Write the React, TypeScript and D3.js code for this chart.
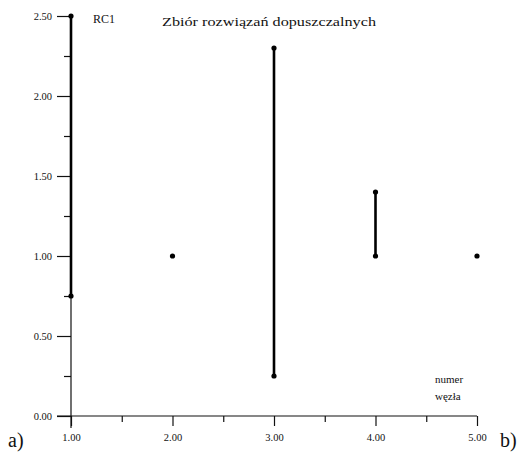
import React, { useEffect, useRef } from "react";
import * as d3 from "d3";

// node numbers and admissible intervals (low, high) for each node
const nodes = [1, 2, 3, 4, 5];
const lows = [0.75, 1.0, 0.25, 1.0, 1.0];
const highs = [2.5, 1.0, 2.3, 1.4, 1.0];

const xMajor = [1, 2, 3, 4, 5];
const xMinor = [1.5, 2.5, 3.5, 4.5];
const yMajor = [0, 0.5, 1, 1.5, 2, 2.5];
const yMinor = [0.25, 0.75, 1.25, 1.75, 2.25];

const W = 532;
const H = 454;

const App = () => {
  const ref = useRef<SVGSVGElement>(null);

  useEffect(() => {
    const svg = d3.select(ref.current);
    svg.selectAll("*").remove();

    const x = d3.scaleLinear().domain([1, 5]).range([71, 477]);
    const y = d3.scaleLinear().domain([0, 2.5]).range([416, 16]);
    const fmt = d3.format(".2f");
    const font = "'Liberation Serif', 'Times New Roman', serif";

    // x axis line
    svg.append("line")
      .attr("x1", 57).attr("x2", x(5))
      .attr("y1", y(0)).attr("y2", y(0))
      .attr("stroke", "#111").attr("stroke-width", 1.2);

    // y axis line
    svg.append("line")
      .attr("x1", x(1)).attr("x2", x(1))
      .attr("y1", y(2.5)).attr("y2", y(0) + 12)
      .attr("stroke", "#111").attr("stroke-width", 1.2);

    // x ticks
    const xAxis = svg.append("g").attr("transform", `translate(0,${y(0)})`)
      .call(d3.axisBottom(x).tickValues(xMajor).tickSize(10).tickSizeOuter(0).tickPadding(8).tickFormat((d) => fmt(d as number)));
    xAxis.select(".domain").remove();
    xAxis.selectAll("text").attr("font-family", font).attr("font-size", 10.5).attr("fill", "#111");
    xAxis.selectAll("line").attr("stroke", "#111").attr("stroke-width", 1.2);

    svg.append("g").attr("transform", `translate(0,${y(0)})`)
      .call(d3.axisBottom(x).tickValues(xMinor).tickSize(6).tickFormat(() => ""))
      .call((g) => g.select(".domain").remove())
      .selectAll("line").attr("stroke", "#111").attr("stroke-width", 1.2);

    // y ticks
    const yAxis = svg.append("g").attr("transform", `translate(${x(1)},0)`)
      .call(d3.axisLeft(y).tickValues(yMajor).tickSize(14).tickSizeOuter(0).tickPadding(5).tickFormat((d) => fmt(d as number)));
    yAxis.select(".domain").remove();
    yAxis.selectAll("text").attr("font-family", font).attr("font-size", 10.5).attr("fill", "#111");
    yAxis.selectAll("line").attr("stroke", "#111").attr("stroke-width", 1.2);

    svg.append("g").attr("transform", `translate(${x(1)},0)`)
      .call(d3.axisLeft(y).tickValues(yMinor).tickSize(7).tickFormat(() => ""))
      .call((g) => g.select(".domain").remove())
      .selectAll("line").attr("stroke", "#111").attr("stroke-width", 1.2);

    // intervals
    const data = nodes.map((n, i) => ({ n, lo: lows[i], hi: highs[i] }));

    svg.selectAll(".interval")
      .data(data.filter((d) => d.hi > d.lo))
      .enter()
      .append("line")
      .attr("class", "interval")
      .attr("x1", (d) => x(d.n)).attr("x2", (d) => x(d.n))
      .attr("y1", (d) => y(d.lo)).attr("y2", (d) => y(d.hi))
      .attr("stroke", "#000").attr("stroke-width", 2.6);

    const ends = data.flatMap((d) => (d.hi > d.lo ? [{ n: d.n, v: d.lo }, { n: d.n, v: d.hi }] : [{ n: d.n, v: d.lo }]));
    svg.selectAll(".end")
      .data(ends)
      .enter()
      .append("circle")
      .attr("class", "end")
      .attr("cx", (d) => x(d.n))
      .attr("cy", (d) => y(d.v))
      .attr("r", 2.6)
      .attr("fill", "#000");

    // labels
    const text = (tx: number, ty: number, s: string, size: number, anchor = "start") =>
      svg.append("text")
        .attr("x", tx).attr("y", ty)
        .attr("font-family", font).attr("font-size", size)
        .attr("text-anchor", anchor)
        .attr("fill", "#111")
        .text(s);

    text(93, 23, "RC1", 12);
    text(162, 26, "Zbiór rozwiązań dopuszczalnych", 12.5)
      .attr("textLength", 214)
      .attr("lengthAdjust", "spacingAndGlyphs");
    text(435, 383, "numer", 11);
    text(435, 400, "węzła", 11);
    text(8, 447, "a)", 20);
    text(500, 447, "b)", 20);
  }, []);

  return (
    <svg
      ref={ref}
      width={W}
      height={H}
      style={{ position: "absolute", left: 0, top: 0, background: "#fff" }}
    ></svg>
  );
};

export default App;
